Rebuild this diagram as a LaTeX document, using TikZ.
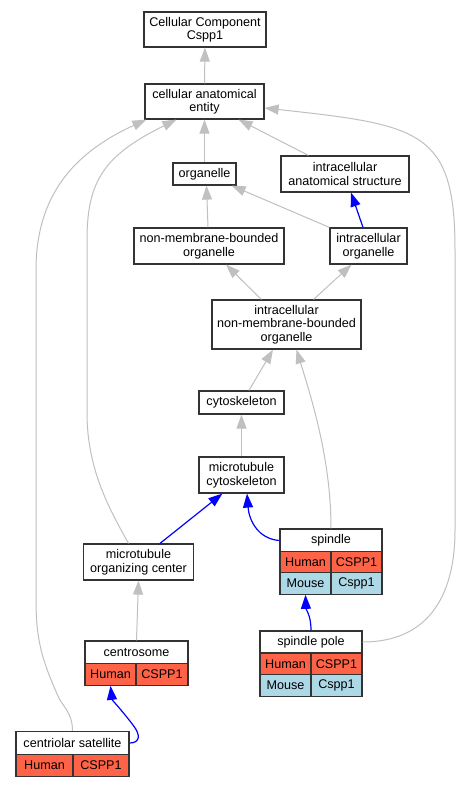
\documentclass[tikz,border=0pt]{standalone}
\usepackage{fontspec}
\setmainfont{Liberation Sans}
\usetikzlibrary{arrows.meta}
\definecolor{boxline}{RGB}{51,51,51}
\definecolor{edgegray}{RGB}{192,192,192}
\definecolor{humanred}{RGB}{255,99,71}
\definecolor{mouseblue}{RGB}{173,216,230}

\begin{document}
\begin{tikzpicture}[x = 1pt, y = -1pt, font = \fontsize{12.6}{13.5}\selectfont,
    term/.style = {draw = boxline, line width = 1.2pt, fill = white, align = center, inner sep = 0pt},
    isa/.style = {edgegray, line width = 1pt, -{Triangle[length = 14pt, width = 10pt]}},
    partof/.style = {blue, line width = 1.2pt, -{Triangle[length = 14pt, width = 10pt]}}]

    \useasboundingbox (0,0) rectangle (464,787);
    \fill [white] (0,0) rectangle (464,787);

    \node [term, minimum width = 122pt, minimum height = 35pt] (cc) at (205,29.5) {Cellular Component\\Cspp1};
    \node [term, minimum width = 119pt, minimum height = 35pt] (cae) at (204.5,101.5) {cellular anatomical\\entity};
    \node [term, minimum width = 63pt, minimum height = 22pt] (org) at (204.5,174) {organelle};
    \node [term, minimum width = 128pt, minimum height = 36pt] (ias) at (345,174) {intracellular\\anatomical structure};
    \node [term, minimum width = 150pt, minimum height = 36pt] (nmbo) at (209,246) {non-membrane-bounded\\organelle};
    \node [term, minimum width = 77pt, minimum height = 36pt] (io) at (368.5,246) {intracellular\\organelle};
    \node [term, minimum width = 149pt, minimum height = 49pt] (inmbo) at (286.5,324.5) {intracellular\\non-membrane-bounded\\organelle};
    \node [term, minimum width = 85pt, minimum height = 23pt] (cyto) at (241.5,402.5) {cytoskeleton};
    \node [term, minimum width = 85pt, minimum height = 36pt] (mtc) at (241.5,475) {microtubule\\cytoskeleton};
    \node [term, minimum width = 110pt, minimum height = 36pt] (mtoc) at (138.5,562) {microtubule\\organizing center};
    \node [term, minimum width = 102pt, minimum height = 23pt] (spindle) at (331,540.5) {spindle};
    \node [term, minimum width = 103pt, minimum height = 23pt] (centro) at (136.5,652.5) {centrosome};
    \node [term, minimum width = 102pt, minimum height = 22pt] (spole) at (311,642) {spindle pole};
    \node [term, minimum width = 113pt, minimum height = 23pt] (csat) at (72.5,743) {centriolar satellite};

    \foreach \name/\x/\y/\w/\c/\txt in {spH/305.5/562.5/51/humanred/Human, spG/356.5/562.5/51/humanred/CSPP1,
      spMs/305.5/583.5/51/mouseblue/Mouse, spMg/356.5/583.5/51/mouseblue/Cspp1,
      ctH/110.5/674.5/51/humanred/Human, ctG/162/674.5/52/humanred/CSPP1,
      poH/285.5/664/51/humanred/Human, poG/336.5/664/51/humanred/CSPP1,
      poMs/285.5/685.5/51/mouseblue/Mouse, poMg/336.5/685.5/51/mouseblue/Cspp1,
      csH/44.5/765.5/57/humanred/Human, csG/101/765.5/56/humanred/CSPP1} {
      \node [term, fill = \c, minimum width = \w pt, minimum height = 21.5pt] (\name) at (\x,\y) {\txt};
    }

    \draw [isa] (cae.north) -- (cc.south);
    \draw [isa] (org.north) -- (cae.south);
    \draw [isa] ([xshift = 28pt]ias.north west) -- ([xshift = -26pt]cae.south east);
    \draw [isa] ([xshift = -1pt]nmbo.north) -- ([xshift = 2pt]org.south);
    \draw [isa] (io.north west) -- ([xshift = -5pt]org.south east);
    \draw [partof] ([xshift = -5.5pt]io.north) -- ([xshift = 6pt]ias.south);
    \draw [isa] ([xshift = 50pt]inmbo.north west) -- ([xshift = 17pt]nmbo.south);
    \draw [isa] ([xshift = -48pt]inmbo.north east) -- ([xshift = -17pt]io.south);
    \draw [isa] ([xshift = 7.5pt]cyto.north) -- ([xshift = -13.5pt]inmbo.south);
    \draw [isa] (spindle.north) .. controls (331,460) and (312,400) .. ([xshift = 10pt]inmbo.south);
    \draw [isa] (mtc.north) -- (cyto.south);
    \draw [isa] ([xshift = -10pt]mtoc.north) .. controls (110,510) and (87,470) .. (87,413) -- (87,240) .. controls (87,180) and (105,155) .. ([xshift = 32pt]cae.south west);
    \draw [isa] (csat.north) .. controls (72.5,712) and (62,706) .. (58,696) .. controls (42,660) and (36,640) .. (36,600) -- (36,270) .. controls (36,190) and (80,150) .. ([xshift = 2pt]cae.south west);
    \draw [isa] (centro.north) -- (mtoc.south);
    \draw [isa] (spole.east) .. controls (425,642) and (455,600) .. (455,530) -- (455,250) .. controls (455,130) and (420,125) .. ([yshift = -6.5pt]cae.east);
    \draw [partof] ([xshift = 21.5pt]mtoc.north) -- ([xshift = 24pt]mtc.south west);
    \draw [partof] (spindle.west) .. controls (258,539) and (249,520) .. ([xshift = 5.5pt]mtc.south);
    \draw [partof] (spole.north) .. controls (311,615) and (306,610) .. (spMs.south);
    \draw [partof] (csat.east) .. controls (140,743) and (141,735) .. (133,725) .. controls (120,708) and (112,700) .. (ctH.south);
\end{tikzpicture}
\end{document}
